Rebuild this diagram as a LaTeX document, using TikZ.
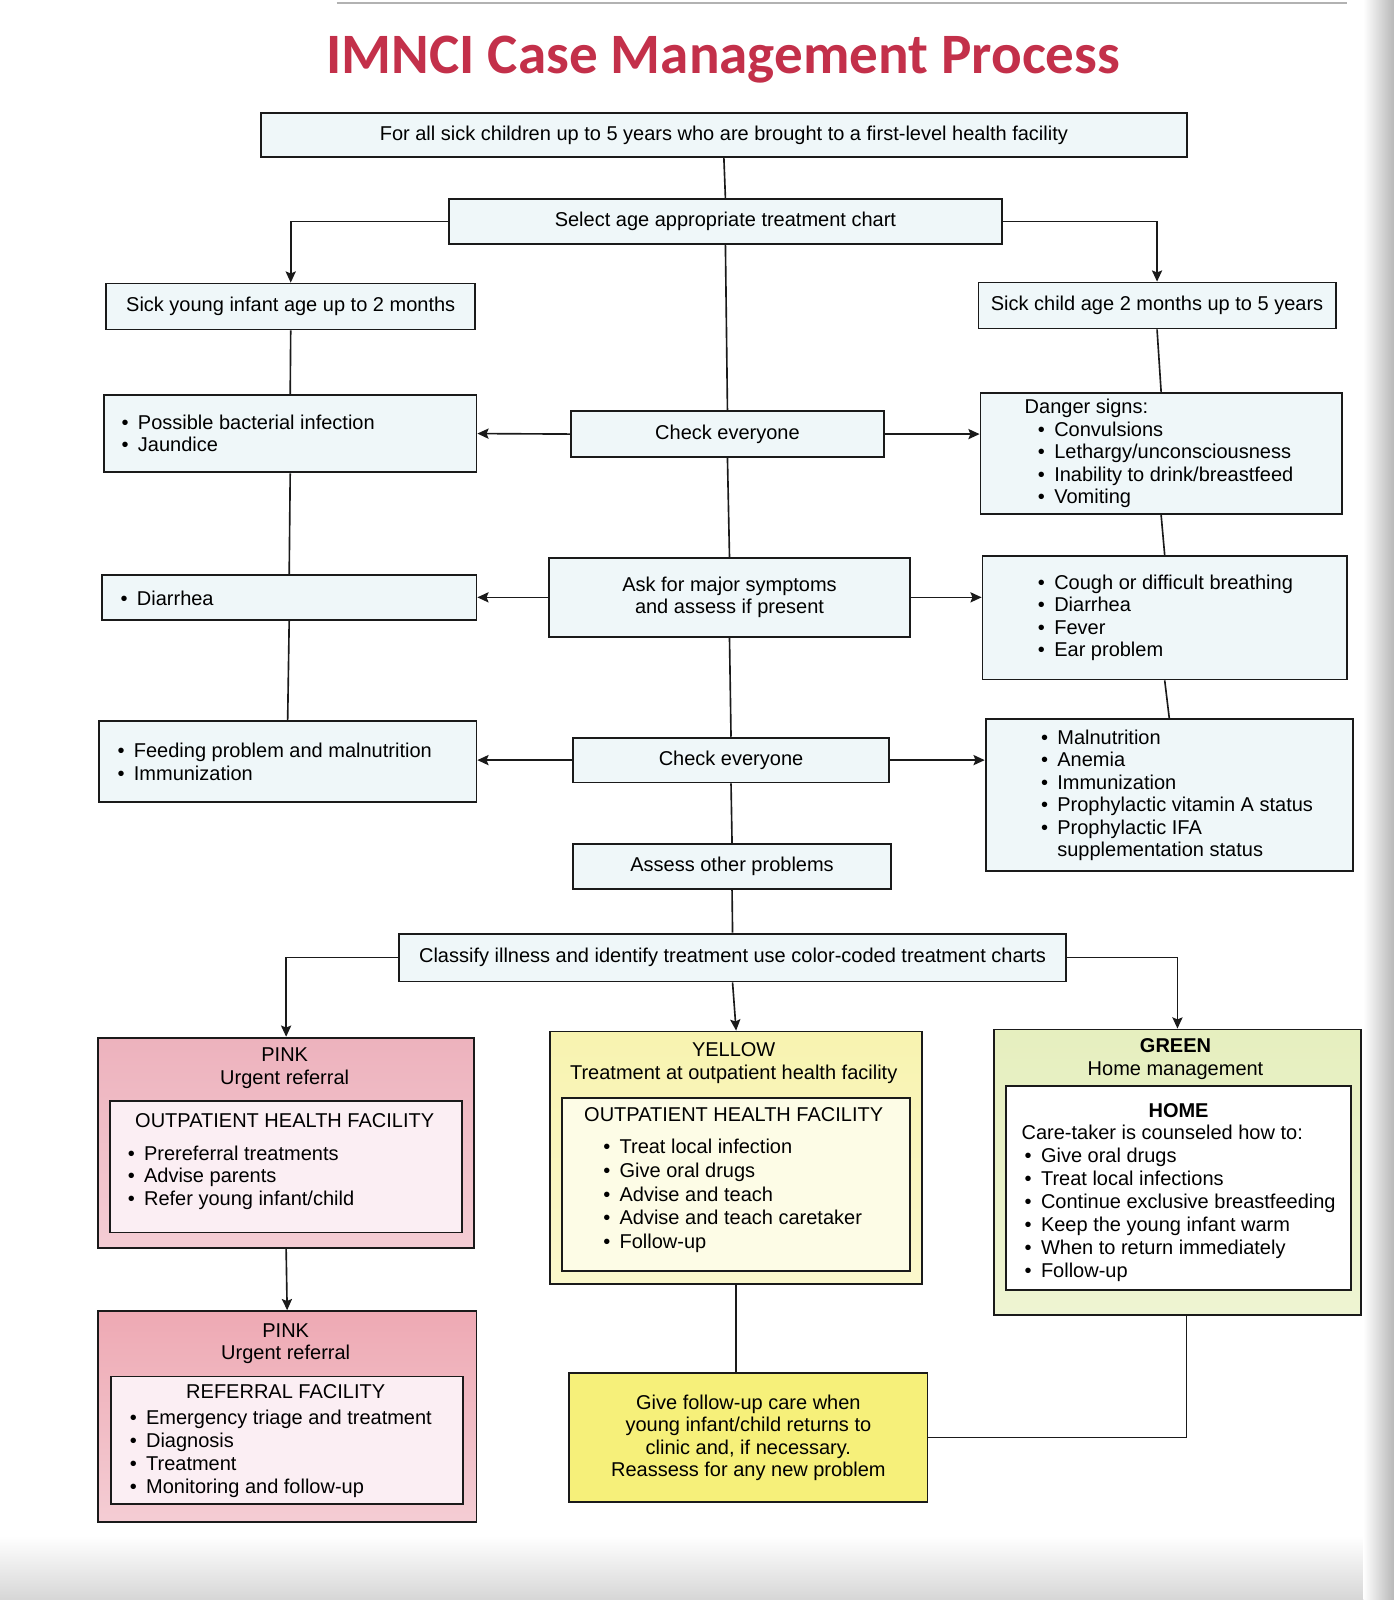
\documentclass[tikz,border=0pt]{standalone}
\usepackage{fontspec}
\setmainfont{Liberation Sans}
\newfontfamily\titlefont{Carlito}
\usetikzlibrary{arrows.meta}

\definecolor{linecol}{HTML}{1A1A1A}
\definecolor{boxfill}{HTML}{EFF7F9}
\definecolor{titlered}{HTML}{C3304A}
\definecolor{pinktop}{HTML}{EDB2BD}
\definecolor{pinkbot}{HTML}{F4CDD4}
\definecolor{pinkin}{HTML}{FBEEF3}
\definecolor{yeltop}{HTML}{F8F3B0}
\definecolor{yelbot}{HTML}{FBF8CC}
\definecolor{yelin}{HTML}{FDFCE6}
\definecolor{grntop}{HTML}{E6EFBF}
\definecolor{grnbot}{HTML}{EEF4D2}
\definecolor{fuyellow}{HTML}{F6F07A}

% bullet item and continuation line
\newcommand{\itm}[1]{\makebox[16pt][l]{\textbullet}#1}
\newcommand{\cnt}[1]{\hspace*{16pt}#1}

\tikzset{
  flow/.style={draw=linecol, line width=1.8pt, fill=boxfill, inner sep=0pt, anchor=north west},
  inbox/.style={draw=linecol, line width=1.8pt, inner sep=0pt, anchor=north west},
  lst/.style={align=left, anchor=west, inner sep=0pt},
  hd/.style={align=center, inner sep=0pt},
  conn/.style={line width=1.6pt, draw=linecol},
  arr/.style={conn, -{Stealth[length=11pt,width=10pt,inset=2pt]}},
}

\begin{document}
\begin{tikzpicture}[x=1pt,y=-1pt, font=\fontsize{19.6}{22}\selectfont]
  \useasboundingbox (0,0) rectangle (1366,1568);
  % page edges
  \shade[top color=white, bottom color=black!16] (0,1505) rectangle (1366,1568);
  \shade[left color=white, right color=black!28] (1336,0) rectangle (1366,1568);
  \draw[black!30, line width=1.2pt] (330,3) -- (1320,3);

  % title
  \node[titlered, font=\titlefont\bfseries\fontsize{56}{60}\selectfont] (title) at (709,58) {IMNCI Case Management Process};

  % main column
  \node[flow, minimum width=907pt, minimum height=43pt] (top) at (255,110) {For all sick children up to 5 years who are brought to a first-level health facility};
  \node[flow, minimum width=542pt, minimum height=44pt] (sel) at (439,194) {Select age appropriate treatment chart};
  \node[flow, minimum width=306pt, minimum height=45pt] (chk1) at (559,402) {Check everyone};
  \node[flow, minimum width=354pt, minimum height=77pt, align=center] (ask) at (537,546) {Ask for major symptoms\\and assess if present};
  \node[flow, minimum width=309pt, minimum height=44pt] (chk2) at (561,722) {Check everyone};
  \node[flow, minimum width=311pt, minimum height=44pt] (assess) at (561,826) {Assess other problems};
  \node[flow, minimum width=654pt, minimum height=47pt] (cls) at (390,914) {Classify illness and identify treatment use color-coded treatment charts};

  % young infant column
  \node[flow, minimum width=362pt, minimum height=45pt] (inf) at (103,277) {Sick young infant age up to 2 months};
  \node[flow, minimum width=365pt, minimum height=76pt] (pbi) at (101,386) {};
  \node[lst] (pbi-txt) at ([xshift=18pt]pbi.west) {\itm{Possible bacterial infection}\\\itm{Jaundice}};
  \node[flow, minimum width=367pt, minimum height=44pt] (dia) at (99,563) {};
  \node[lst] (dia-txt) at ([xshift=19pt]dia.west) {\itm{Diarrhea}};
  \node[flow, minimum width=370pt, minimum height=79pt] (feed) at (96,706) {};
  \node[lst] (feed-txt) at ([xshift=19pt]feed.west) {\itm{Feeding problem and malnutrition}\\\itm{Immunization}};

  % sick child column
  \node[flow, minimum width=350pt, minimum height=45pt] (child) at (958,276) {Sick child age 2 months up to 5 years};
  \node[flow, minimum width=354pt, minimum height=119pt] (danger) at (960,384) {};
  \node[lst] (danger-txt) at ([xshift=44pt]danger.west) {Danger signs:\\
    \hspace*{13pt}\itm{Convulsions}\\\hspace*{13pt}\itm{Lethargy/unconsciousness}\\
    \hspace*{13pt}\itm{Inability to drink/breastfeed}\\\hspace*{13pt}\itm{Vomiting}};
  \node[flow, minimum width=357pt, minimum height=121pt] (cough) at (962,544) {};
  \node[lst] (cough-txt) at ([xshift=55pt]cough.west) {\itm{Cough or difficult breathing}\\\itm{Diarrhea}\\\itm{Fever}\\\itm{Ear problem}};
  \node[flow, minimum width=360pt, minimum height=149pt] (maln) at (965,704) {};
  \node[lst] (maln-txt) at ([xshift=55pt]maln.west) {\itm{Malnutrition}\\\itm{Anemia}\\\itm{Immunization}\\
    \itm{Prophylactic vitamin A status}\\\itm{Prophylactic IFA}\\\cnt{supplementation status}};

  % pink: outpatient
  \node[inbox, top color=pinktop, bottom color=pinkbot, minimum width=369pt, minimum height=206pt] (pink1) at (95,1016) {};
  \node[inbox, fill=pinkin, minimum width=345pt, minimum height=129pt] (pink1-in) at (107,1078) {};
  \node[hd] (pink1-hd) at (279,1047) {PINK\\Urgent referral};
  \node[hd] (pink1-sub) at (279,1098) {OUTPATIENT HEALTH FACILITY};
  \node[lst] (pink1-txt) at (125,1154) {\itm{Prereferral treatments}\\\itm{Advise parents}\\\itm{Refer young infant/child}};

  % pink: referral facility
  \node[inbox, top color=pinktop!95!red, bottom color=pinkbot, minimum width=371pt, minimum height=207pt] (pink2) at (95,1284) {};
  \node[inbox, fill=pinkin, minimum width=345pt, minimum height=125pt] (pink2-in) at (108,1348) {};
  \node[hd] (pink2-hd) at (280,1317) {PINK\\Urgent referral};
  \node[hd] (pink2-sub) at (280,1364) {REFERRAL FACILITY};
  \node[lst, font=\fontsize{19.6}{22.5}\selectfont] (pink2-txt) at (127,1425) {\itm{Emergency triage and treatment}\\\itm{Diagnosis}\\\itm{Treatment}\\\itm{Monitoring and follow-up}};

  % yellow
  \node[inbox, top color=yeltop, bottom color=yelbot, minimum width=365pt, minimum height=247pt] (yel) at (538,1010) {};
  \node[inbox, fill=yelin, minimum width=341pt, minimum height=170pt] (yel-in) at (550,1075) {};
  \node[hd] (yel-hd) at (719,1042) {YELLOW\\Treatment at outpatient health facility};
  \node[hd] (yel-sub) at (719,1092) {OUTPATIENT HEALTH FACILITY};
  \node[lst, font=\fontsize{19.6}{23.2}\selectfont] (yel-txt) at (591,1172) {\itm{Treat local infection}\\\itm{Give oral drugs}\\\itm{Advise and teach}\\
    \itm{Advise and teach caretaker}\\\itm{Follow-up}};

  % green
  \node[inbox, top color=grntop, bottom color=grnbot, minimum width=360pt, minimum height=280pt] (grn) at (973,1008) {};
  \node[inbox, fill=white, minimum width=338pt, minimum height=200pt] (grn-in) at (985,1063) {};
  \node[hd] (grn-hd) at (1152,1038) {\textbf{GREEN}\\Home management};
  \node[hd] (grn-sub) at (1155,1088) {\textbf{HOME}};
  \node[lst, font=\fontsize{19.6}{22.5}\selectfont] (grn-txt) at (1001,1179) {Care-taker is counseled how to:\\
    \hspace*{3pt}\itm{Give oral drugs}\\\hspace*{3pt}\itm{Treat local infections}\\
    \hspace*{3pt}\itm{Continue exclusive breastfeeding}\\\hspace*{3pt}\itm{Keep the young infant warm}\\
    \hspace*{3pt}\itm{When to return immediately}\\\hspace*{3pt}\itm{Follow-up}};

  % follow-up
  \node[flow, fill=fuyellow, minimum width=351pt, minimum height=126pt, align=center] (fu) at (557,1345) {Give follow-up care when\\young infant/child returns to\\clinic and, if necessary.\\Reassess for any new problem};

  % connectors
  \draw[conn] (top.south) -- (sel.north);
  \draw[arr] (sel.west) -| (inf.north);
  \draw[arr] (sel.east) -| (child.north);
  \draw[conn] (sel.south) -- (chk1.north);
  \draw[conn] (chk1.south) -- (ask.north);
  \draw[conn] (ask.south) -- (chk2.north);
  \draw[conn] (chk2.south) -- (assess.north);
  \draw[conn] (assess.south) -- (cls.north);

  \draw[conn] (inf.south) -- (pbi.north);
  \draw[conn] (pbi.south) -- (dia.north);
  \draw[conn] (dia.south) -- (feed.north);
  \draw[conn] (child.south) -- (danger.north);
  \draw[conn] (danger.south) -- (cough.north);
  \draw[conn] (cough.south) -- (maln.north);

  \draw[arr] (chk1.west) -- (pbi.east);
  \draw[arr] (chk1.east) -- (chk1.east -| danger.west);
  \draw[arr] (ask.west) -- (ask.west -| dia.east);
  \draw[arr] (ask.east) -- (ask.east -| cough.west);
  \draw[arr] (chk2.west) -- (chk2.west -| feed.east);
  \draw[arr] (chk2.east) -- (chk2.east -| maln.west);

  \draw[arr] (cls.west) -| (pink1.north);
  \draw[arr] (cls.south) -- (yel.north);
  \draw[arr] (cls.east) -| (grn.north);
  \draw[arr] (pink1.south) -- (pink2.north);
  \draw[conn] (yel.south) -- (yel.south |- fu.north);
  \draw[conn] ([xshift=9pt]grn.south) |- (fu.east);
\end{tikzpicture}
\end{document}
